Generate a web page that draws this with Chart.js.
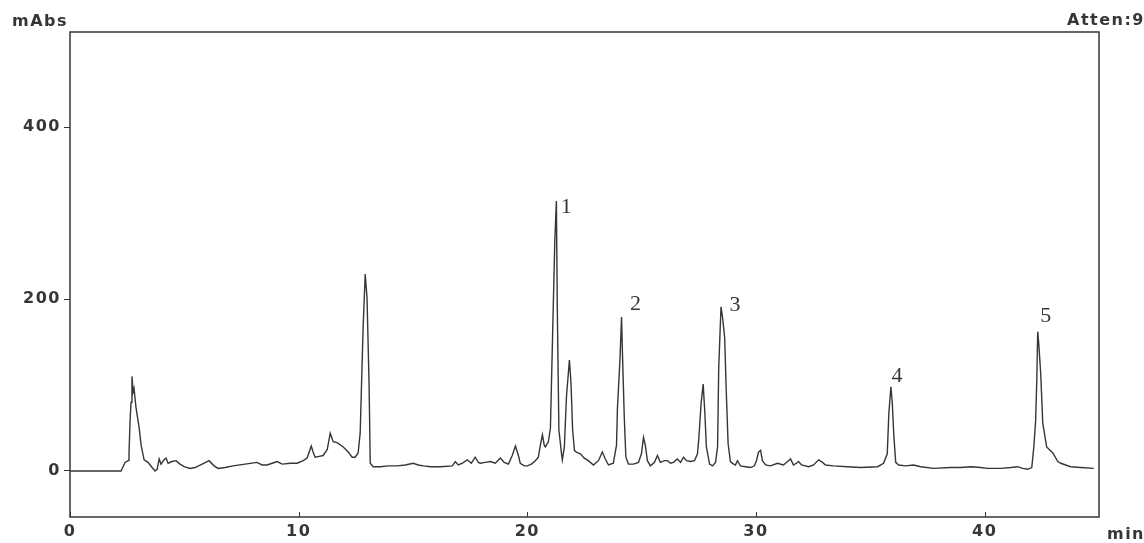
<!DOCTYPE html>
<html>
<head>
<meta charset="utf-8">
<script src="https://cdn.jsdelivr.net/npm/chart.js@4.4.1/dist/chart.umd.min.js"></script>
<style>
    html, body { margin: 0; padding: 0; background: #fff; }
    #wrap { width: 1144px; height: 543px; }
</style>
</head>
<body>
<div id="wrap"><canvas id="chromChart" width="1144" height="543"></canvas></div>
<script>
// Cromatograma: tiempo de retención (min) vs absorbancia (mAbs)
const retentionTime = [
    0, 1.31, 2.23, 2.32, 2.41, 2.54, 2.58, 2.63, 2.67, 2.71, 2.76, 2.80, 2.89, 3.02, 3.11, 3.24, 3.41, 3.59, 3.72, 3.81,
    3.90, 3.98, 4.11, 4.20, 4.29, 4.46, 4.64, 4.81, 4.99, 5.25, 5.47, 5.78, 6.08, 6.30, 6.48, 6.78, 7.13, 7.66, 8.18, 8.40,
    8.62, 8.84, 9.06, 9.28, 9.63, 9.93, 10.20, 10.37, 10.46, 10.55, 10.63, 10.72, 10.90, 11.07, 11.25, 11.38, 11.51, 11.68, 11.95, 12.17,
    12.34, 12.47, 12.60, 12.69, 12.82, 12.91, 12.99, 13.08, 13.13, 13.26, 13.57, 13.92, 14.31, 14.66, 15.01, 15.23, 15.45, 15.76, 16.19, 16.72,
    16.85, 16.98, 17.16, 17.37, 17.55, 17.72, 17.86, 17.94, 18.16, 18.38, 18.60, 18.82, 18.99, 19.17, 19.34, 19.48, 19.61, 19.69, 19.87, 20.00,
    20.18, 20.35, 20.48, 20.57, 20.66, 20.74, 20.79, 20.92, 21.01, 21.09, 21.20, 21.27, 21.31, 21.38, 21.49, 21.53, 21.62, 21.71, 21.84, 21.91,
    21.98, 22.06, 22.14, 22.32, 22.49, 22.67, 22.89, 23.11, 23.28, 23.41, 23.55, 23.76, 23.90, 23.94, 24.05, 24.12, 24.16, 24.24, 24.31, 24.42,
    24.64, 24.86, 24.99, 25.08, 25.16, 25.25, 25.38, 25.56, 25.69, 25.82, 26.00, 26.13, 26.26, 26.39, 26.56, 26.70, 26.83, 26.96, 27.13, 27.31,
    27.44, 27.50, 27.60, 27.69, 27.76, 27.83, 27.97, 28.10, 28.23, 28.32, 28.37, 28.47, 28.54, 28.63, 28.70, 28.78, 28.88, 29.02, 29.10, 29.19,
    29.32, 29.54, 29.76, 29.93, 30.02, 30.11, 30.20, 30.28, 30.42, 30.63, 30.94, 31.20, 31.42, 31.51, 31.64, 31.77, 31.86, 31.99, 32.30, 32.52,
    32.74, 32.91, 33.04, 33.39, 34.00, 34.57, 35.32, 35.58, 35.74, 35.81, 35.90, 35.96, 36.03, 36.11, 36.24, 36.54, 36.89, 37.20, 37.77, 38.51,
    38.95, 39.39, 39.83, 40.13, 40.70, 41.14, 41.44, 41.66, 41.88, 42.06, 42.15, 42.23, 42.28, 42.32, 42.36, 42.45, 42.54, 42.71, 42.98, 43.20,
    43.33, 43.54, 43.76, 44.20, 44.77
];
const absorbance = [
    0, 0, 0, 5, 10, 12, 20, 60, 80, 110, 92, 96, 73, 51, 30, 13, 10, 4, 0, 2,
    14, 8, 13, 15, 9, 11, 12, 8, 5, 3, 4, 8, 12, 6, 3, 4, 6, 8, 10, 7,
    7, 9, 11, 8, 9, 9, 12, 15, 22, 29, 22, 16, 17, 18, 25, 44, 34, 33, 28, 22,
    16, 16, 21, 44, 168, 229, 201, 100, 9, 5, 5, 6, 6, 7, 9, 7, 6, 5, 5, 6,
    11, 7, 9, 13, 9, 16, 10, 9, 10, 11, 9, 15, 10, 8, 18, 29, 18, 9, 6, 6,
    8, 12, 16, 30, 42, 30, 28, 34, 50, 141, 266, 314, 191, 48, 21, 13, 28, 86, 129, 102,
    48, 24, 22, 20, 15, 12, 7, 12, 22, 14, 7, 9, 30, 73, 129, 179, 137, 62, 16, 8,
    8, 10, 20, 39, 30, 12, 6, 10, 18, 10, 12, 12, 9, 10, 14, 10, 16, 12, 11, 12,
    20, 38, 79, 101, 69, 28, 8, 6, 10, 28, 120, 191, 178, 155, 92, 32, 11, 8, 7, 12,
    6, 5, 4, 6, 12, 22, 24, 12, 7, 6, 9, 7, 12, 14, 7, 9, 11, 7, 5, 7,
    13, 10, 7, 6, 5, 4, 5, 9, 20, 67, 98, 79, 40, 10, 7, 6, 7, 5, 3, 4,
    4, 5, 4, 3, 3, 4, 5, 3, 2, 4, 28, 59, 106, 162, 150, 114, 56, 28, 21, 11,
    9, 7, 5, 4, 3
];
const xTickValues = [0, 10, 20, 30, 40];
const yTickValues = [0, 200, 400];
const peakNames = ['1', '2', '3', '4', '5'];
const peakTimes = [21.27, 24.12, 28.47, 35.90, 42.32];
const peakHeights = [314, 179, 191, 98, 162];

const inkColor = '#363636';
const labelFont = "bold 16px 'DejaVu Sans', sans-serif";
const tickFont = { family: "'DejaVu Sans', sans-serif", size: 16, weight: 'bold' };

// Marco, marcas internas del eje x, rótulos y números de pico
const chromDecor = {
    id: 'chromDecor',
    beforeDraw(chart) {
        // la fuente del registrador es ancha: algo de espaciado entre letras
        chart.ctx.letterSpacing = '1.5px';
    },
    afterDraw(chart) {
        const { ctx, chartArea: a, scales } = chart;
        ctx.save();
        ctx.strokeStyle = inkColor;
        ctx.lineWidth = 1.5;
        ctx.strokeRect(a.left, a.top, a.right - a.left, a.bottom - a.top);

        ctx.lineWidth = 1;
        xTickValues.forEach(v => {
            const x = Math.round(scales.x.getPixelForValue(v)) + 0.5;
            ctx.beginPath();
            ctx.moveTo(x, a.bottom);
            ctx.lineTo(x, a.bottom - 5);
            ctx.stroke();
        });

        ctx.fillStyle = inkColor;
        ctx.textBaseline = 'middle';
        ctx.font = labelFont;
        ctx.letterSpacing = '1.5px';
        ctx.textAlign = 'left';
        ctx.fillText('mAbs', 12, 22);
        ctx.textAlign = 'right';
        ctx.fillText('Atten:9', 1145, 21);
        ctx.fillText('min', 1145, 535);

        // desplazamiento en px de cada número respecto a la cima del pico
        const offsets = [[10, 6], [14, -13], [14, -2], [6, -11], [8, -15]];
        ctx.letterSpacing = '0px';
        ctx.font = "22px 'Liberation Serif', 'DejaVu Serif', serif";
        ctx.textAlign = 'center';
        peakNames.forEach((name, i) => {
            const x = scales.x.getPixelForValue(peakTimes[i]) + offsets[i][0];
            const y = scales.y.getPixelForValue(peakHeights[i]) + offsets[i][1];
            ctx.fillText(name, x, y);
        });
        ctx.restore();
        ctx.letterSpacing = '0px';
    }
};

const ctx = document.getElementById('chromChart').getContext('2d');
new Chart(ctx, {
    type: 'line',
    data: {
        datasets: [{
            label: 'mAbs',
            data: retentionTime.map((t, i) => ({ x: t, y: absorbance[i] })),
            borderColor: inkColor,
            borderWidth: 1.4,
            pointRadius: 0,
            tension: 0,
            fill: false
        }]
    },
    options: {
        responsive: false,
        animation: false,
        layout: { padding: { top: 32, right: 45, bottom: 0, left: 0 } },
        plugins: {
            legend: { display: false },
            tooltip: { enabled: false }
        },
        scales: {
            x: {
                type: 'linear',
                min: 0,
                max: 45,
                afterBuildTicks: (scale) => { scale.ticks = xTickValues.map(v => ({ value: v })); },
                afterFit: (scale) => { scale.height = 26; },
                grid: { display: false, drawTicks: false, tickLength: 0 },
                border: { display: false },
                ticks: { color: inkColor, font: tickFont, padding: 5, maxRotation: 0 }
            },
            y: {
                min: -53.5,
                max: 510.5,
                afterBuildTicks: (scale) => { scale.ticks = yTickValues.map(v => ({ value: v })); },
                afterFit: (scale) => { scale.width = 70; },
                grid: { drawOnChartArea: false, drawTicks: true, tickLength: 6, color: inkColor },
                border: { display: false },
                ticks: { color: inkColor, font: tickFont, padding: 3 }
            }
        }
    },
    plugins: [chromDecor]
});
</script>
</body>
</html>
